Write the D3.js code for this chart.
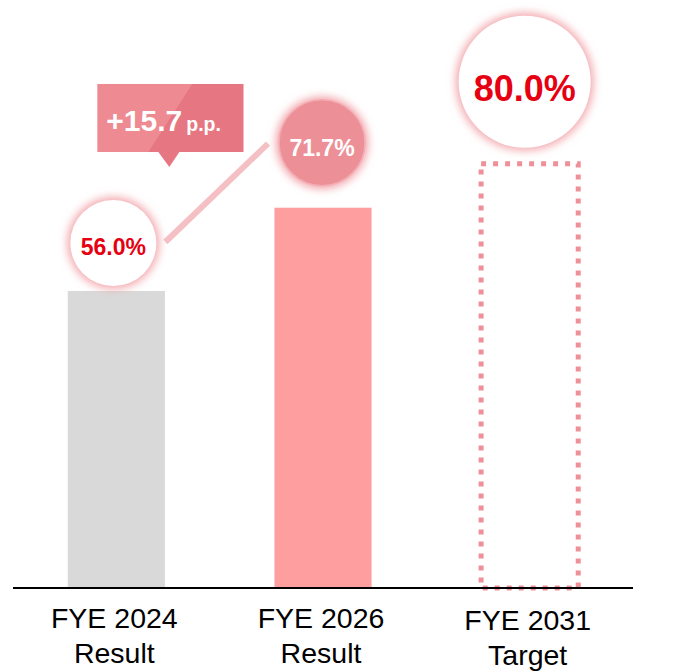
<html>
<head>
<script src="https://d3js.org/d3.v7.min.js"></script>
<style>
  body { margin: 0; background: #fff; }
  svg { font-family: "Liberation Sans", Arial, sans-serif; }
</style>
</head>
<body>
<div id="chart"></div>
<script>
// data
var years = ["FYE 2024", "FYE 2026", "FYE 2031"];
var kinds = ["Result", "Result", "Target"];
var ratios = [56.0, 71.7, 80.0];
var labels = ["56.0%", "71.7%", "80.0%"];
var gapLabel = "+15.7";
var gapUnit = "p.p.";

var width = 680, height = 672;
var base = 588;

var svg = d3.select("#chart").append("svg")
  .attr("width", width).attr("height", height);

var defs = svg.append("defs");
defs.append("filter").attr("id", "glow")
  .attr("x", "-50%").attr("y", "-50%").attr("width", "200%").attr("height", "200%")
  .append("feGaussianBlur").attr("stdDeviation", 4.5);

var x = d3.scaleBand().domain(years).range([13, 633])
  .paddingInner(0.53).paddingOuter(0.265);
var y = d3.scaleLinear().domain([0, 100]).range([base, base - 530.4]);

var bw = x.bandwidth();
var cx = d => x(d) + bw / 2;

// bars
svg.selectAll(".bar").data(years.slice(0, 2)).enter()
  .append("rect")
  .attr("x", d => x(d))
  .attr("y", (d, i) => y(ratios[i]))
  .attr("width", bw)
  .attr("height", (d, i) => base - y(ratios[i]))
  .attr("fill", (d, i) => i == 0 ? "#d9d9d9" : "#ff9e9f");

// target (dotted outline)
svg.append("rect")
  .attr("x", x(years[2]))
  .attr("y", y(ratios[2]))
  .attr("width", bw)
  .attr("height", base - y(ratios[2]))
  .attr("fill", "none")
  .attr("stroke", "#ef8f98")
  .attr("stroke-width", 5)
  .attr("stroke-dasharray", "5,7");

// axis line
svg.append("line")
  .attr("x1", 13).attr("x2", 633)
  .attr("y1", base).attr("y2", base)
  .attr("stroke", "#000").attr("stroke-width", 2);

// category labels
var lab = svg.selectAll(".lab").data(years).enter()
  .append("text")
  .attr("text-anchor", "middle")
  .attr("font-size", "28.5px")
  .attr("fill", "#000");
lab.append("tspan")
  .attr("x", d => cx(d) - 2)
  .attr("y", (d, i) => i == 2 ? 630 : 628)
  .text(d => d);
lab.append("tspan")
  .attr("x", d => cx(d) - 2)
  .attr("dy", 35)
  .text((d, i) => kinds[i]);

// value bubbles
var bubbles = [
  {dx: -3, dy: -48, r: 43, fill: "#ffffff", glow: "#f3a9ae", text: "#e60012", fs: 23, tb: 12},
  {dx: -1, dy: -65, r: 43, fill: "#ec8f97", glow: "#f2a2a8", text: "#ffffff", fs: 23, tb: 13},
  {dx: -5, dy: -82, r: 66, fill: "#ffffff", glow: "#f3a9ae", text: "#e60012", fs: 36, tb: 19}
];
var centers = years.map((d, i) => [cx(d) + bubbles[i].dx, y(ratios[i]) + bubbles[i].dy]);

// connector between the two results
svg.append("line")
  .attr("x1", centers[0][0] + 52).attr("y1", centers[0][1] - 1)
  .attr("x2", centers[1][0] - 54).attr("y2", centers[1][1] + 1)
  .attr("stroke", "#f5c0c4").attr("stroke-width", 6);

var g = svg.selectAll(".bubble").data(bubbles).enter()
  .append("g")
  .attr("transform", (d, i) => `translate(${centers[i][0]},${centers[i][1]})`);
g.append("circle")
  .attr("r", d => d.r + 3)
  .attr("fill", d => d.glow)
  .attr("filter", "url(#glow)");
g.append("circle")
  .attr("r", d => d.r)
  .attr("fill", d => d.fill)
  .attr("stroke", (d, i) => i == 1 ? "#f4adb3" : "none")
  .attr("stroke-width", 1.5);
g.append("text")
  .attr("text-anchor", "middle")
  .attr("y", d => d.tb)
  .attr("font-size", d => d.fs + "px")
  .attr("font-weight", "bold")
  .attr("fill", d => d.text)
  .text((d, i) => labels[i]);

// difference callout
var bx = centers[0][0] - 16, by = centers[0][1] - 159, bwid = 146, bht = 68;
svg.append("rect")
  .attr("x", bx).attr("y", by).attr("width", bwid).attr("height", bht)
  .attr("fill", "#ed8a92");
svg.append("path")
  .attr("d", `M${bx + 95},${by} L${bx + bwid},${by} L${bx + bwid},${by + bht} L${bx + 51},${by + bht} Z`)
  .attr("fill", "#e67782");
svg.append("path")
  .attr("d", `M${bx + 61},${by + bht} L${bx + 82},${by + bht} L${bx + 72},${by + bht + 15} Z`)
  .attr("fill", "#e67782");
var t = svg.append("text")
  .attr("x", bx + 9).attr("y", by + 47)
  .attr("fill", "#fff").attr("font-weight", "bold");
t.append("tspan").attr("font-size", "30px").text(gapLabel);
t.append("tspan").attr("font-size", "19.5px").attr("dx", 4).text(gapUnit);
</script>
</body>
</html>
